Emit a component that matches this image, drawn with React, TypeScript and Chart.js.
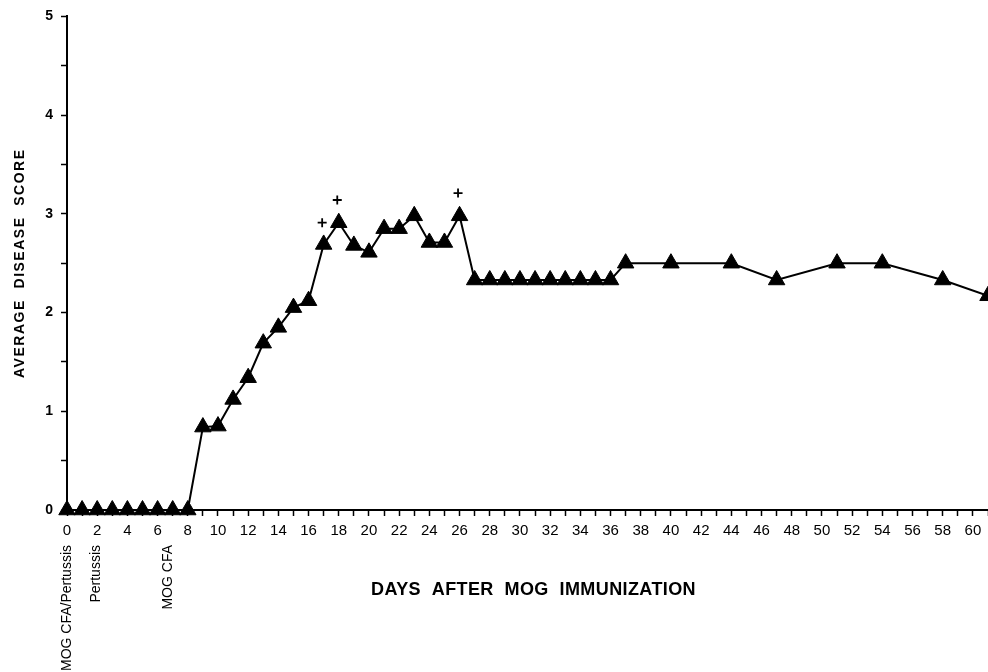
import { useEffect, useRef } from "react";
import { Chart, registerables } from "chart.js";

Chart.register(...registerables);

// Days after immunization and average disease score
const days = [
  0, 1, 2, 3, 4, 5, 6, 7, 8, 9, 10, 11, 12, 13, 14, 15, 16, 17, 18, 19, 20,
  21, 22, 23, 24, 25, 26, 27, 28, 29, 30, 31, 32, 33, 34, 35, 36, 37, 40, 44,
  47, 51, 54, 58, 61,
];
const scores = [
  0, 0, 0, 0, 0, 0, 0, 0, 0, 0.84, 0.85, 1.12, 1.34, 1.69, 1.85, 2.05, 2.12,
  2.69, 2.91, 2.68, 2.61, 2.85, 2.85, 2.98, 2.71, 2.71, 2.98, 2.33, 2.33, 2.33,
  2.33, 2.33, 2.33, 2.33, 2.33, 2.33, 2.33, 2.5, 2.5, 2.5, 2.33, 2.5, 2.5,
  2.33, 2.17,
];

// "+" marks above selected points
const markDays = [16.9, 17.9, 25.9];
const markScores = [2.91, 3.14, 3.21];

// Event annotations under the x axis
const eventDays = [0, 1.9, 6.7];
const eventLabels = ["MOG CFA/Pertussis", "Pertussis", "MOG CFA"];

const xTitle = "DAYS  AFTER  MOG  IMMUNIZATION";
const yTitle = "AVERAGE  DISEASE  SCORE";
const yMax = 5;
const xMax = 61;

const FONT = '"Liberation Sans", Arial, Helvetica, sans-serif';

const annotationPlugin = {
  id: "annotations",
  afterDraw(chart: any) {
    const { ctx, chartArea } = chart;
    const xs = chart.scales.x;
    ctx.save();
    ctx.fillStyle = "#000";

    // rotated event labels
    ctx.font = `14px ${FONT}`;
    ctx.textAlign = "right";
    ctx.textBaseline = "middle";
    eventDays.forEach((d, i) => {
      const px = xs.getPixelForValue(d);
      ctx.save();
      ctx.translate(px, chartArea.bottom + 35);
      ctx.rotate(-Math.PI / 2);
      ctx.fillText(eventLabels[i], 0, 0);
      ctx.restore();
    });

    // x axis title
    ctx.save();
    ctx.font = `bold 18px ${FONT}`;
    (ctx as any).letterSpacing = "0.4px";
    ctx.textAlign = "center";
    ctx.textBaseline = "middle";
    ctx.fillText(xTitle, (chartArea.left + chartArea.right) / 2 + 6, chartArea.bottom + 80);
    ctx.restore();

    // y axis title
    ctx.save();
    ctx.translate(20, (chartArea.top + chartArea.bottom) / 2);
    ctx.rotate(-Math.PI / 2);
    ctx.font = `bold 14px ${FONT}`;
    (ctx as any).letterSpacing = "1.5px";
    ctx.textAlign = "center";
    ctx.textBaseline = "middle";
    ctx.fillText(yTitle, 0, 0);
    ctx.restore();

    ctx.restore();
  },
};

export default function App() {
  const ref = useRef<HTMLCanvasElement | null>(null);

  useEffect(() => {
    document.body.style.margin = "0";
    const canvas = ref.current;
    if (!canvas) return;
    const chart = new Chart(canvas, {
      type: "line",
      data: {
        datasets: [
          {
            data: days.map((d, i) => ({ x: d, y: scores[i] })),
            borderColor: "#000",
            borderWidth: 2,
            backgroundColor: "#000",
            pointStyle: "triangle",
            pointRadius: 9.5,
            pointBorderWidth: 1,
            pointBackgroundColor: "#000",
            pointBorderColor: "#000",
            tension: 0,
            clip: false as any,
          },
          {
            data: markDays.map((d, i) => ({ x: d, y: markScores[i] })),
            showLine: false,
            pointStyle: "cross",
            pointRadius: 4.5,
            pointBorderWidth: 1.8,
            pointBorderColor: "#000",
            borderColor: "#000",
            clip: false as any,
          },
        ],
      },
      options: {
        responsive: false,
        animation: false,
        events: [],
        layout: { autoPadding: false, padding: { top: 15, right: 0, left: 0, bottom: 0 } },
        plugins: {
          legend: { display: false },
          tooltip: { enabled: false },
        },
        scales: {
          x: {
            type: "linear",
            min: 0,
            max: xMax,
            afterFit: (s: any) => {
              s.height = 162;
              s.paddingLeft = 0;
              s.paddingRight = 0;
            },
            border: { display: true, color: "#000", width: 2 },
            grid: {
              display: true,
              drawOnChartArea: false,
              drawTicks: true,
              tickLength: 6,
              tickColor: "#000",
              tickWidth: 1.5,
            },
            ticks: {
              stepSize: 1,
              autoSkip: false,
              maxRotation: 0,
              minRotation: 0,
              padding: 6,
              color: "#000",
              font: { family: FONT, size: 15 },
              callback: (v: any) => (Number(v) % 2 === 0 ? String(v) : ""),
            },
          },
          y: {
            type: "linear",
            min: 0,
            max: yMax,
            afterFit: (s: any) => {
              s.width = 67;
            },
            border: { display: true, color: "#000", width: 2 },
            grid: {
              display: true,
              drawOnChartArea: false,
              drawTicks: true,
              tickLength: 6,
              tickColor: "#000",
              tickWidth: 1.5,
            },
            ticks: {
              stepSize: 0.5,
              autoSkip: false,
              padding: 8,
              color: "#000",
              font: { family: FONT, size: 14, weight: "bold" },
              callback: (v: any) => (Number.isInteger(Number(v)) ? String(v) : ""),
            },
          },
        },
      },
      plugins: [annotationPlugin],
    });
    return () => chart.destroy();
  }, []);

  return (
    <div style={{ width: 988, height: 672 }}>
      <canvas ref={ref} width={988} height={672} style={{ display: "block" }} />
    </div>
  );
}
